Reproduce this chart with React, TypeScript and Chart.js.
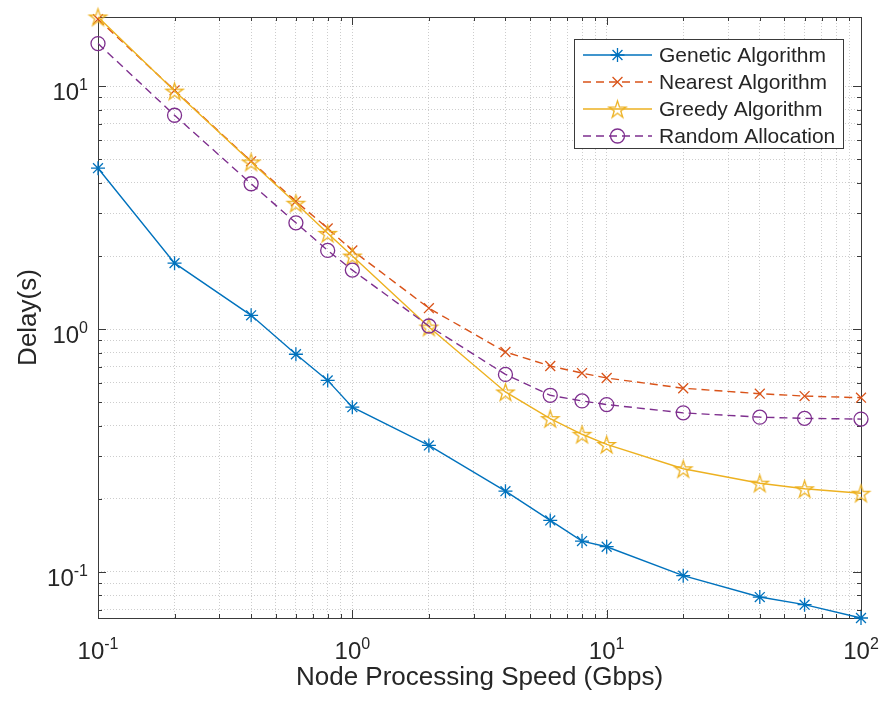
import React, { useEffect, useRef } from 'react';
import { Chart, registerables } from 'chart.js';
import { drawPoint } from 'chart.js/helpers';

Chart.register(...registerables);

// Node processing speed (Gbps)
const speeds = [0.1, 0.2, 0.4, 0.6, 0.8, 1, 2, 4, 6, 8, 10, 20, 40, 60, 100];

// Delay (s) for each allocation strategy
const geneticDelay = [4.6, 1.87, 1.14, 0.788, 0.615, 0.477, 0.332, 0.215, 0.163, 0.134, 0.127, 0.0965, 0.0788, 0.0733, 0.0646];
const nearestDelay = [18.9, 9.63, 4.91, 3.36, 2.6, 2.11, 1.22, 0.805, 0.705, 0.659, 0.629, 0.571, 0.542, 0.53, 0.522];
const greedyDelay = [19.3, 9.56, 4.88, 3.3, 2.48, 2.0, 1.02, 0.551, 0.428, 0.369, 0.335, 0.266, 0.232, 0.22, 0.211];
const randomDelay = [15.0, 7.6, 3.97, 2.74, 2.11, 1.75, 1.03, 0.651, 0.534, 0.506, 0.489, 0.452, 0.434, 0.429, 0.426];

const seriesNames = ['Genetic Algorithm', 'Nearest Algorithm', 'Greedy Algorithm', 'Random Allocation'];

// Decade exponents labelled on each axis
const xTickExponents = [-1, 0, 1, 2];
const yTickExponents = [-1, 0, 1];

const xTitle = 'Node Processing Speed (Gbps)';
const yTitle = 'Delay(s)';

const FONT = '"Liberation Sans", Arial, Helvetica, sans-serif';
const INK = '#262626';
const AXIS = '#3a3a3a';
const GRID = '#cdcdcd';

const COLORS = ['#0072BD', '#D95319', '#EDB120', '#7E2F8E'];
const DASHED = [false, true, false, true];
const DASH = [8, 5];
const LINE_W = 1.4;

function makePentagram(color: string, r: number, lw: number) {
  const size = Math.ceil(2 * r + 2 * lw + 2);
  const c = document.createElement('canvas');
  c.width = size;
  c.height = size;
  const g = c.getContext('2d')!;
  const cx = size / 2;
  const cy = size / 2 + r * 0.1;
  g.beginPath();
  for (let i = 0; i < 10; i++) {
    const rr = i % 2 === 0 ? r : r * 0.382;
    const a = -Math.PI / 2 + (i * Math.PI) / 5;
    const px = cx + rr * Math.cos(a);
    const py = cy + rr * Math.sin(a);
    if (i === 0) g.moveTo(px, py);
    else g.lineTo(px, py);
  }
  g.closePath();
  g.strokeStyle = color;
  g.lineWidth = lw;
  g.lineJoin = 'miter';
  g.stroke();
  return c;
}

function logTicks(min: number, max: number) {
  const out: { v: number; major: boolean }[] = [];
  const e0 = Math.floor(Math.log10(min));
  const e1 = Math.ceil(Math.log10(max));
  for (let e = e0; e <= e1; e++) {
    for (let m = 1; m <= 9; m++) {
      const v = parseFloat((m * Math.pow(10, e)).toPrecision(8));
      if (v >= min * (1 - 1e-9) && v <= max * (1 + 1e-9)) out.push({ v, major: m === 1 });
    }
  }
  return out;
}

const pentagram = makePentagram(COLORS[2], 9, 1.3);
const markerStyles: any[] = ['star', 'crossRot', pentagram, 'circle'];
const markerRadius = [7, 7, 9, 7];

function drawPowerLabel(ctx: CanvasRenderingContext2D, exp: number, x: number, baseline: number, align: 'center' | 'right') {
  const baseFont = `24px ${FONT}`;
  const expFont = `16px ${FONT}`;
  const expText = String(exp);
  ctx.font = baseFont;
  const wb = ctx.measureText('10').width;
  ctx.font = expFont;
  const we = ctx.measureText(expText).width;
  const total = wb + we;
  const left = align === 'center' ? x - total / 2 : x - total;
  ctx.textAlign = 'left';
  ctx.textBaseline = 'alphabetic';
  ctx.fillStyle = INK;
  ctx.font = baseFont;
  ctx.fillText('10', left, baseline);
  ctx.font = expFont;
  ctx.fillText(expText, left + wb, baseline - 10);
}

const axesDecor = {
  id: 'axesDecor',
  beforeDatasetsDraw(chart: any) {
    const { ctx, chartArea: a, scales } = chart;
    const xs = scales.x;
    const ys = scales.y;
    ctx.save();
    ctx.strokeStyle = AXIS;
    ctx.lineWidth = 1;
    ctx.setLineDash([]);
    ctx.beginPath();
    for (const t of logTicks(xs.min, xs.max)) {
      const px = Math.round(xs.getPixelForValue(t.v)) + 0.5;
      const len = t.major ? 8 : 4;
      ctx.moveTo(px, a.bottom);
      ctx.lineTo(px, a.bottom - len);
      ctx.moveTo(px, a.top);
      ctx.lineTo(px, a.top + len);
    }
    for (const t of logTicks(ys.min, ys.max)) {
      const py = Math.round(ys.getPixelForValue(t.v)) + 0.5;
      const len = t.major ? 8 : 4;
      ctx.moveTo(a.left, py);
      ctx.lineTo(a.left + len, py);
      ctx.moveTo(a.right, py);
      ctx.lineTo(a.right - len, py);
    }
    ctx.stroke();
    ctx.strokeRect(Math.round(a.left) + 0.5, Math.round(a.top) + 0.5, Math.round(a.right - a.left), Math.round(a.bottom - a.top));
    ctx.restore();
  },
  afterDatasetsDraw(chart: any) {
    const { ctx, chartArea: a, scales } = chart;
    const xs = scales.x;
    const ys = scales.y;
    ctx.save();

    // decade tick labels
    for (const e of xTickExponents) {
      const px = xs.getPixelForValue(Math.pow(10, e));
      drawPowerLabel(ctx, e, px, a.bottom + 41, 'center');
    }
    for (const e of yTickExponents) {
      const py = ys.getPixelForValue(Math.pow(10, e));
      drawPowerLabel(ctx, e, a.left - 10, py + 14, 'right');
    }

    // axis titles
    ctx.fillStyle = INK;
    ctx.font = `26px ${FONT}`;
    ctx.textAlign = 'center';
    ctx.textBaseline = 'alphabetic';
    ctx.fillText(xTitle, (a.left + a.right) / 2, a.bottom + 67);
    ctx.save();
    ctx.translate(a.left - 62, (a.top + a.bottom) / 2);
    ctx.rotate(-Math.PI / 2);
    ctx.fillText(yTitle, 0, 0);
    ctx.restore();

    // legend box
    const boxR = a.right - 18;
    const boxL = boxR - 269;
    const boxT = a.top + 22;
    const rowH = 27;
    const boxB = boxT + 109;
    ctx.fillStyle = '#ffffff';
    ctx.fillRect(boxL, boxT, boxR - boxL, boxB - boxT);
    ctx.strokeStyle = AXIS;
    ctx.lineWidth = 1;
    ctx.setLineDash([]);
    ctx.strokeRect(Math.round(boxL) + 0.5, Math.round(boxT) + 0.5, Math.round(boxR - boxL), Math.round(boxB - boxT));

    chart.data.datasets.forEach((ds: any, i: number) => {
      const cy = boxT + 16 + i * rowH;
      const x0 = boxL + 9;
      const x1 = boxL + 78;
      ctx.strokeStyle = COLORS[i];
      ctx.lineWidth = LINE_W;
      ctx.setLineDash(DASHED[i] ? DASH : []);
      ctx.beginPath();
      ctx.moveTo(x0, cy);
      ctx.lineTo(x1, cy);
      ctx.stroke();
      ctx.setLineDash([]);
      ctx.fillStyle = 'rgba(0,0,0,0)';
      ctx.lineWidth = 1.3;
      drawPoint(ctx, { pointStyle: markerStyles[i], radius: markerRadius[i], rotation: 0, borderWidth: 1.3 } as any, (x0 + x1) / 2, cy);
      ctx.fillStyle = INK;
      ctx.font = `21px ${FONT}`;
      ctx.textAlign = 'left';
      ctx.textBaseline = 'middle';
      ctx.fillText(ds.label, boxL + 85, cy + 1);
    });

    ctx.restore();
  },
};

export default function App() {
  const canvasRef = useRef<HTMLCanvasElement>(null);

  useEffect(() => {
    const canvas = canvasRef.current;
    if (!canvas) return;
    const allSeries = [geneticDelay, nearestDelay, greedyDelay, randomDelay];
    const flat = allSeries.flat();
    const yMin = Math.min(...flat);
    const yMax = Math.max(...flat);

    const datasets = allSeries.map((vals, i) => ({
      label: seriesNames[i],
      data: speeds.map((s, k) => ({ x: s, y: vals[k] })),
      borderColor: COLORS[i],
      backgroundColor: 'rgba(0,0,0,0)',
      borderWidth: LINE_W,
      borderDash: DASHED[i] ? DASH : [],
      pointStyle: markerStyles[i],
      pointRadius: markerRadius[i],
      pointHoverRadius: markerRadius[i],
      pointBorderWidth: 1.3,
      pointBorderColor: COLORS[i],
      pointBackgroundColor: 'rgba(0,0,0,0)',
      tension: 0,
      fill: false,
      clip: false as any,
      order: 4 - i,
    }));

    const gridSetup = (scale: any) => {
      scale.ticks = logTicks(scale.min, scale.max).map((t) => ({ value: t.v, major: t.major }));
    };

    const chart = new Chart(canvas, {
      type: 'line',
      data: { datasets },
      options: {
        animation: false,
        responsive: false,
        devicePixelRatio: 1,
        events: [],
        layout: { autoPadding: false, padding: { left: 98, right: 20, top: 17, bottom: 83 } },
        plugins: { legend: { display: false }, tooltip: { enabled: false } },
        scales: {
          x: {
            type: 'logarithmic',
            min: 0.1,
            max: 100,
            afterBuildTicks: gridSetup,
            ticks: { display: false, autoSkip: false },
            grid: { color: GRID, lineWidth: 1, drawTicks: false },
            border: { display: false, dash: [1, 2] },
            title: { display: false },
          },
          y: {
            type: 'logarithmic',
            min: yMin,
            max: yMax,
            afterBuildTicks: gridSetup,
            ticks: { display: false, autoSkip: false },
            grid: { color: GRID, lineWidth: 1, drawTicks: false },
            border: { display: false, dash: [1, 2] },
            title: { display: false },
          },
        },
      } as any,
      plugins: [axesDecor],
    });
    return () => chart.destroy();
  }, []);

  return (
    <div style={{ position: 'fixed', left: 0, top: 0, width: 881, height: 701, background: '#ffffff' }}>
      <canvas ref={canvasRef} width={881} height={701} style={{ display: 'block', width: 881, height: 701 }} />
    </div>
  );
}
